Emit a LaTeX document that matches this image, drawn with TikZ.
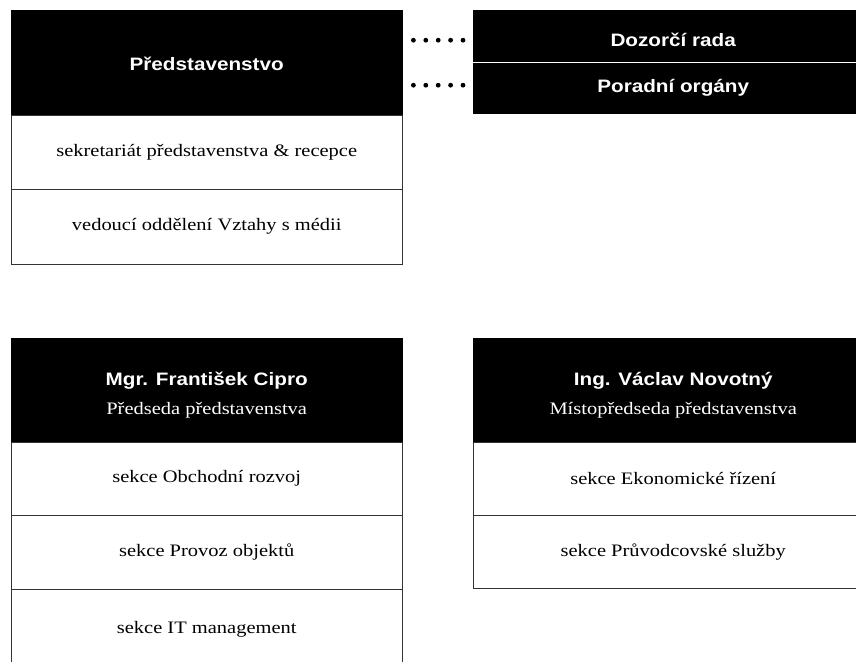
\documentclass[tikz,border=0pt]{standalone}
\usepackage{fontspec}
\setmainfont{Liberation Serif}[FakeStretch=1.17]
\newfontfamily\hdrfont{Liberation Sans}[FakeStretch=1.15]
\newcommand\subfnt{\rmfamily\mdseries\fontsize{17.5}{20}\selectfont}
\begin{document}
\begin{tikzpicture}[x=1pt,y=-1pt,
  hdr/.style={draw=black, fill=black, text=white, anchor=north west, inner sep=0pt, align=center, font=\hdrfont\bfseries\fontsize{18}{21}\selectfont},
  rowbox/.style={draw=black!80, fill=white, anchor=north west, inner sep=0pt, font=\fontsize{17.5}{20}\selectfont},
  dotline/.style={line width=4.8pt, line cap=round, dash pattern=on 0pt off 12.4pt}]
\useasboundingbox (0,0) rectangle (856,661);
\clip (0,0) rectangle (856,661);
% top-left
\node[hdr, minimum width=391pt, minimum height=105pt, text height=16pt, text depth=0pt] (p) at (11,10) {Představenstvo};
\node[rowbox, minimum width=391pt, minimum height=74pt] (r1) at (11,115) {sekretariát představenstva \& recepce};
\node[rowbox, minimum width=391pt, minimum height=75pt] (r2) at (11,189) {vedoucí oddělení Vztahy s médii};
% top-right
\node[hdr, minimum width=400pt, minimum height=52pt, text height=24pt, text depth=4pt] (dr) at (473,10) {Dozorčí rada};
\node[hdr, minimum width=400pt, minimum height=51pt] (po) at (473,62) {Poradní orgány};
\draw[white, line width=1pt] (dr.south west) -- (dr.south east);
% dots
\coordinate (d1a) at ([xshift=11pt,yshift=-4pt]p.east |- dr.west);
\coordinate (d1b) at ([xshift=-10pt,yshift=-4pt]dr.west);
\coordinate (d2a) at ([xshift=11pt,yshift=2.5pt]p.east |- po.west);
\coordinate (d2b) at ([xshift=-10pt,yshift=2.5pt]po.west);
\draw[dotline] (d1a) -- (d1b);
\draw[dotline] (d2a) -- (d2b);
% lower-left
\node[hdr, minimum width=391pt, minimum height=104pt] (fc) at (11,338) {\rule{0pt}{23pt}Mgr. František Cipro\\[8pt]{\subfnt Předseda představenstva}};
\node[rowbox, minimum width=391pt, minimum height=73pt] (l1) at (11,442) {sekce Obchodní rozvoj};
\node[rowbox, minimum width=391pt, minimum height=74pt] (l2) at (11,515) {sekce Provoz objektů};
\node[rowbox, minimum width=391pt, minimum height=80pt] (l3) at (11,589) {sekce IT management};
% lower-right
\node[hdr, minimum width=400pt, minimum height=104pt] (vn) at (473,338) {\rule{0pt}{23pt}Ing. Václav Novotný\\[8pt]{\subfnt Místopředseda představenstva}};
\node[rowbox, minimum width=400pt, minimum height=73pt] (k1) at (473,442) {sekce Ekonomické řízení};
\node[rowbox, minimum width=400pt, minimum height=73pt] (k2) at (473,515) {sekce Průvodcovské služby};
\end{tikzpicture}
\end{document}
